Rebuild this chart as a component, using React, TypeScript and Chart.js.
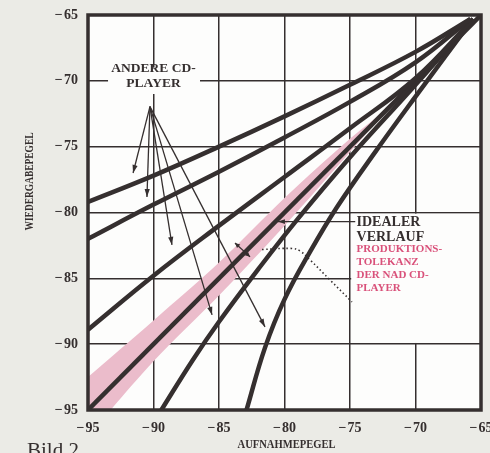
import { useEffect, useRef } from "react";
import { Chart, registerables } from "chart.js";

Chart.register(...registerables);

// ---- data (dB values) ----
const xTicks = [-95, -90, -85, -80, -75, -70, -65];
const yTicks = [-95, -90, -85, -80, -75, -70, -65];

const idealX = [-95, -65];
const idealY = [-95, -65];

const curve1X = [-95, -90, -85, -80, -75, -70, -65.8];
const curve1Y = [-79.2, -77.2, -75.0, -72.7, -70.3, -67.8, -65.3];
const curve2X = [-95, -90, -85, -80, -75, -70, -65.8];
const curve2Y = [-82.0, -79.4, -76.9, -74.3, -71.6, -68.6, -65.3];
const curve3X = [-95, -90, -85, -80, -75, -70, -65.6];
const curve3Y = [-88.9, -84.8, -81.0, -77.3, -73.6, -69.8, -65.3];
const curve5X = [-89.4, -87, -85, -82, -79, -75, -70, -65.6];
const curve5Y = [-95, -91.2, -88.3, -84.3, -80.5, -75.8, -70.3, -65.3];
const curve6X = [-82.9, -81.5, -80.0, -78.0, -76.0, -73.0, -70.0, -65.6];
const curve6Y = [-95, -90.3, -86.6, -82.9, -79.6, -75.3, -71.2, -65.3];

const bandX = [-95, -90, -85, -80, -75, -72];
const bandUpper = [-92.5, -88.2, -83.8, -78.9, -74.4, -72];
const bandLower = [-97.0, -91.3, -86.3, -81.0, -75.4, -72];

const dottedX = [-81.72, -79.43, -78.82, -78.05, -76.53, -74.85];
const dottedY = [-82.81, -82.73, -82.92, -83.6, -85.12, -86.79];

// arrows of "ANDERE CD-PLAYER": common origin and tips
const otherOrigin = [-90.27, -71.96];
const otherTipsX = [-91.56, -90.5, -88.59, -85.53, -81.49];
const otherTipsY = [-77.0, -78.82, -82.46, -87.78, -88.69];

// pointer of "IDEALER VERLAUF" (from label to tip)
const idealPointerX = [-74.6, -80.5];
const idealPointerY = [-80.69, -80.69];
// double arrow across tolerance band
const bandArrowX = [-83.78, -82.63];
const bandArrowY = [-82.31, -83.37];

const otherLabel = ["ANDERE CD-", "PLAYER"];
const otherLabelPos = [-90.0, -69.1];
const idealLabel = ["IDEALER", "VERLAUF"];
const idealLabelPos = [-74.5, -80.72];
const tolLabel = ["PRODUKTIONS-", "TOLEKANZ", "DER NAD CD-", "PLAYER"];
const tolLabelPos = [-74.5, -82.8];

const xTitle = "AUFNAHMEPEGEL";
const yTitle = "WIEDERGABEPEGEL";
const figLabel = "Bild 2";

const INK = "#352f2f";
const PAPER = "#ebebe6";
const PINK = "#ebbccb";
const PINK_TEXT = "#d9517a";
const SERIF = "'Liberation Serif', 'DejaVu Serif', serif";

const pts = (xs: number[], ys: number[]) => xs.map((x, i) => ({ x, y: ys[i] }));
const fmt = (v: number) => "\u2212\u200A" + Math.abs(v);

function arrowHead(ctx: CanvasRenderingContext2D, x1: number, y1: number, x2: number, y2: number, len = 8, half = 2.6) {
  const a = Math.atan2(y2 - y1, x2 - x1);
  ctx.beginPath();
  ctx.moveTo(x2, y2);
  ctx.lineTo(x2 - len * Math.cos(a) + half * Math.sin(a), y2 - len * Math.sin(a) - half * Math.cos(a));
  ctx.lineTo(x2 - len * Math.cos(a) - half * Math.sin(a), y2 - len * Math.sin(a) + half * Math.cos(a));
  ctx.closePath();
  ctx.fill();
}

function fitText(ctx: CanvasRenderingContext2D, s: string, x: number, y: number, w: number) {
  const m = ctx.measureText(s).width;
  ctx.save();
  ctx.translate(x, y);
  ctx.scale(w / m, 1);
  ctx.fillText(s, 0, 0);
  ctx.restore();
}

const decor = {
  id: "decor",
  beforeDraw(chart: any) {
    const { ctx, chartArea: a } = chart;
    ctx.save();
    ctx.fillStyle = PAPER;
    ctx.fillRect(0, 0, chart.width, chart.height);
    ctx.fillStyle = "#fdfdfc";
    ctx.fillRect(a.left, a.top, a.right - a.left, a.bottom - a.top);
    ctx.restore();
  },
  beforeDatasetsDraw(chart: any) {
    const { ctx } = chart;
    const X = (v: number) => chart.scales.x.getPixelForValue(v);
    const Y = (v: number) => chart.scales.y.getPixelForValue(v);
    ctx.save();
    ctx.fillStyle = "#fdfdfc";
    const l = X(-75) + 1.2, r = X(-65) - 1, t = Y(-80) + 1.2, b = Y(-90) - 1.2;
    ctx.fillRect(l, t, r - l, b - t);
    const l2 = X(-93.47), r2 = X(-86.45);
    ctx.fillRect(l2, Y(-69.0), r2 - l2, Y(-71.0) - Y(-69.0));
    ctx.restore();
  },
  afterDatasetsDraw(chart: any) {
    const { ctx, chartArea: a } = chart;
    const X = (v: number) => chart.scales.x.getPixelForValue(v);
    const Y = (v: number) => chart.scales.y.getPixelForValue(v);
    ctx.save();
    ctx.strokeStyle = INK;
    ctx.lineWidth = 3.5;
    ctx.strokeRect(a.left, a.top, a.right - a.left, a.bottom - a.top);

    ctx.strokeStyle = INK;
    ctx.fillStyle = INK;
    ctx.lineWidth = 1.3;
    const ox = X(otherOrigin[0]), oy = Y(otherOrigin[1]);
    otherTipsX.forEach((tx, i) => {
      const px = X(tx), py = Y(otherTipsY[i]);
      ctx.beginPath();
      ctx.moveTo(ox, oy);
      ctx.lineTo(px, py);
      ctx.stroke();
      arrowHead(ctx, ox, oy, px, py);
    });

    const p1x = X(idealPointerX[0]), p1y = Y(idealPointerY[0]);
    const p2x = X(idealPointerX[1]), p2y = Y(idealPointerY[1]);
    ctx.beginPath();
    ctx.moveTo(p1x, p1y);
    ctx.lineTo(p2x, p2y);
    ctx.stroke();
    arrowHead(ctx, p1x, p1y, p2x, p2y, 7, 2.4);

    const b1x = X(bandArrowX[0]), b1y = Y(bandArrowY[0]);
    const b2x = X(bandArrowX[1]), b2y = Y(bandArrowY[1]);
    ctx.beginPath();
    ctx.moveTo(b1x, b1y);
    ctx.lineTo(b2x, b2y);
    ctx.stroke();
    arrowHead(ctx, b2x, b2y, b1x, b1y, 5, 2.4);
    arrowHead(ctx, b1x, b1y, b2x, b2y, 5, 2.4);

    ctx.textBaseline = "middle";
    ctx.fillStyle = INK;
    ctx.font = `bold 13.5px ${SERIF}`;
    ctx.textAlign = "center";
    otherLabel.forEach((s, i) => ctx.fillText(s, X(otherLabelPos[0]), Y(otherLabelPos[1]) + i * 15));

    ctx.textAlign = "left";
    ctx.font = `bold 14px ${SERIF}`;
    idealLabel.forEach((s, i) => ctx.fillText(s, X(idealLabelPos[0]), Y(idealLabelPos[1]) + i * 15.5));

    ctx.fillStyle = PINK_TEXT;
    ctx.font = `bold 11px ${SERIF}`;
    tolLabel.forEach((s, i) => ctx.fillText(s, X(tolLabelPos[0]), Y(tolLabelPos[1]) + i * 13));
    ctx.restore();
  },
  afterDraw(chart: any) {
    const { ctx, chartArea: a } = chart;
    ctx.save();
    ctx.fillStyle = INK;
    ctx.textAlign = "left";
    ctx.textBaseline = "middle";
    ctx.font = `bold 12px ${SERIF}`;
    fitText(ctx, xTitle, (a.left + a.right) / 2 - 47, a.bottom + 35, 98);
    ctx.save();
    ctx.translate(a.left - 58, (a.top + a.bottom) / 2 - 31 + 49);
    ctx.rotate(-Math.PI / 2);
    ctx.font = `bold 12.5px ${SERIF}`;
    fitText(ctx, yTitle, 0, 0, 98);
    ctx.restore();
    ctx.textBaseline = "alphabetic";
    ctx.font = `21px ${SERIF}`;
    ctx.fillText(figLabel, 27, chart.height + 4);
    ctx.restore();
  },
};

export default function App() {
  const ref = useRef<HTMLCanvasElement | null>(null);
  useEffect(() => {
    if (!ref.current) return;
    const line = (xs: number[], ys: number[]) => ({
      data: pts(xs, ys),
      borderColor: INK,
      borderWidth: 4.5,
      pointRadius: 0,
      fill: false,
      tension: 0.4,
      order: 1,
    });
    const chart = new Chart(ref.current, {
      type: "line",
      data: {
        datasets: [
          line(curve1X, curve1Y),
          line(curve2X, curve2Y),
          line(curve3X, curve3Y),
          { ...line(idealX, idealY), tension: 0 },
          line(curve5X, curve5Y),
          line(curve6X, curve6Y),
          {
            data: pts(dottedX, dottedY),
            borderColor: INK,
            borderWidth: 1.6,
            borderDash: [1.5, 2.6],
            pointRadius: 0,
            fill: false,
            tension: 0.4,
            order: 2,
          },
          {
            data: pts(bandX, bandUpper),
            borderWidth: 0,
            borderColor: "rgba(0,0,0,0)",
            pointRadius: 0,
            fill: false,
            tension: 0.3,
            order: 10,
          },
          {
            data: pts(bandX, bandLower),
            borderWidth: 0,
            borderColor: "rgba(0,0,0,0)",
            backgroundColor: PINK,
            pointRadius: 0,
            fill: "-1",
            tension: 0.3,
            order: 11,
          },
        ],
      },
      options: {
        animation: false,
        responsive: false,
        events: [],
        layout: { padding: { top: 15, right: 9, left: 0, bottom: 0 } },
        plugins: { legend: { display: false }, tooltip: { enabled: false } },
        scales: {
          x: {
            type: "linear",
            min: -95,
            max: -65,
            afterBuildTicks: (s: any) => {
              s.ticks = xTicks.map((v) => ({ value: v }));
            },
            afterFit: (s: any) => {
              s.height = 43;
              s.paddingLeft = 0;
              s.paddingRight = 0;
            },
            grid: { color: INK, lineWidth: 1.5, drawTicks: false },
            border: { display: false },
            ticks: {
              padding: 10,
              color: INK,
              maxRotation: 0,
              font: { family: SERIF, size: 14, weight: "bold" },
              callback: (v: any) => fmt(Number(v)),
            },
          },
          y: {
            type: "linear",
            min: -95,
            max: -65,
            afterBuildTicks: (s: any) => {
              s.ticks = yTicks.map((v) => ({ value: v }));
            },
            afterFit: (s: any) => {
              s.width = 88;
              s.paddingTop = 0;
              s.paddingBottom = 0;
            },
            grid: { color: INK, lineWidth: 1.5, drawTicks: false },
            border: { display: false },
            ticks: {
              padding: 10,
              color: INK,
              font: { family: SERIF, size: 14, weight: "bold" },
              callback: (v: any) => fmt(Number(v)),
            },
          },
        },
      },
      plugins: [decor],
    } as any);
    return () => chart.destroy();
  }, []);
  return (
    <div style={{ position: "fixed", left: 0, top: 0, width: 490, height: 453, background: PAPER }}>
      <canvas ref={ref} width={490} height={453} style={{ display: "block", width: 490, height: 453 }} />
    </div>
  );
}
